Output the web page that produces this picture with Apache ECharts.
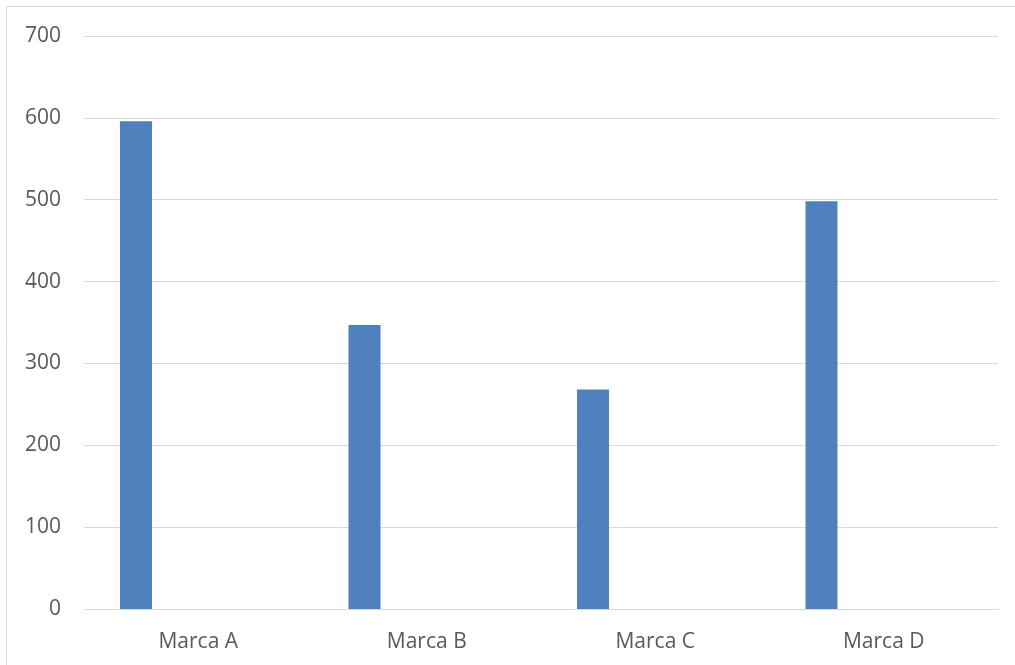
<!DOCTYPE html>
<html>
<head>
<meta charset="utf-8">
<script src="https://cdn.jsdelivr.net/npm/echarts@6/dist/echarts.min.js"></script>
<style>
  html, body { margin: 0; padding: 0; background: #ffffff; }
  #chart { width: 1015px; height: 665px; }
</style>
</head>
<body>
<div id="chart"></div>
<script>
const categories = ['Marca A', 'Marca B', 'Marca C', 'Marca D'];
const ventas = [596, 347, 268, 498];
const emptySeries = [null, null, null, null];
const yTicks = { min: 0, max: 700, interval: 100 };

const chart = echarts.init(document.getElementById('chart'), null, { renderer: 'canvas' });
const labelFont = { color: '#595959', fontFamily: 'Open Sans', fontSize: 21 };

chart.setOption({
  animation: false,
  backgroundColor: '#ffffff',
  graphic: [{
    type: 'rect',
    shape: { x: 6.5, y: 6.5, width: 1030, height: 680 },
    style: { fill: 'none', stroke: '#d9d9d9', lineWidth: 1 },
    silent: true
  }],
  grid: { left: 84, right: 17, top: 36, bottom: 56, containLabel: false },
  xAxis: {
    type: 'category',
    data: categories,
    axisLine: { show: true, lineStyle: { color: '#d9d9d9', width: 1 } },
    axisTick: { show: false },
    axisLabel: Object.assign({ margin: 23 }, labelFont),
    splitLine: { show: false }
  },
  yAxis: {
    type: 'value',
    min: yTicks.min,
    max: yTicks.max,
    interval: yTicks.interval,
    axisLine: { show: false },
    axisTick: { show: false },
    axisLabel: Object.assign({ margin: 23, padding: [4, 0, 0, 0] }, labelFont),
    splitLine: { show: true, lineStyle: { color: '#d9d9d9', width: 1 } }
  },
  series: [
    {
      type: 'bar',
      data: ventas,
      barWidth: 32,
      barGap: '289%',
      itemStyle: { color: '#4f81bd' }
    },
    {
      type: 'bar',
      data: emptySeries,
      barWidth: 32,
      itemStyle: { color: '#c0504d' }
    }
  ]
});
</script>
</body>
</html>
